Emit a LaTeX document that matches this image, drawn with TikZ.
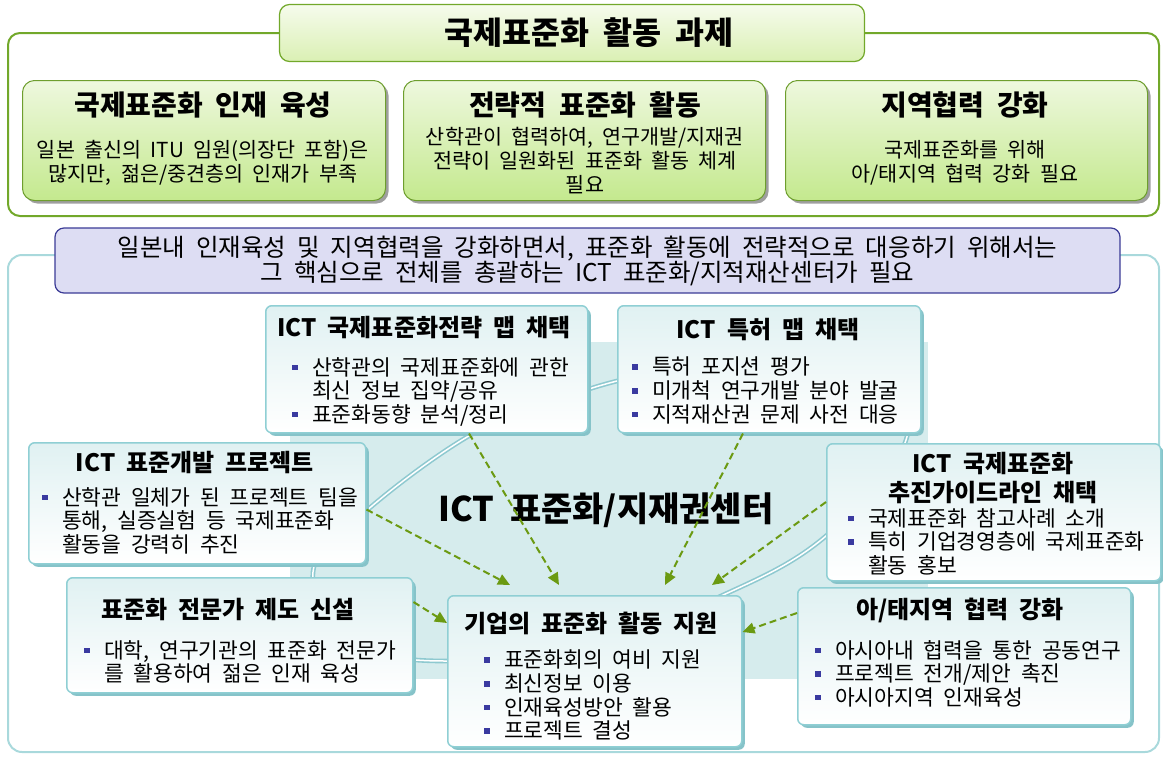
\documentclass[tikz,border=0pt]{standalone}
\usepackage{fontspec}
\setmainfont{Noto Sans CJK KR}[WordSpace=2]
\usetikzlibrary{arrows.meta,shadows,calc}

\definecolor{framegreen}{HTML}{72A82A}
\definecolor{headtop}{HTML}{F6FBEC}
\definecolor{headbot}{HTML}{DAF0B4}
\definecolor{boxgreenA}{HTML}{EEF8DE}
\definecolor{boxgreenB}{HTML}{C4E98E}
\definecolor{edgegreen}{HTML}{6E9E2E}
\definecolor{lavfill}{HTML}{DDDDF3}
\definecolor{lavedge}{HTML}{3B3B96}
\definecolor{tealframe}{HTML}{A9D9DC}
\definecolor{tealback}{HTML}{D6ECED}
\definecolor{tealedge}{HTML}{8FCFD4}
\definecolor{tealtop}{HTML}{E0F1F2}
\definecolor{tealshadow}{HTML}{86C3C9}
\definecolor{ringteal}{HTML}{8EC9D0}
\definecolor{arrowgreen}{HTML}{6B9A12}
\definecolor{bulletblue}{HTML}{3A3AA0}

\newcommand{\bul}{\makebox[20pt][l]{\textcolor{bulletblue}{\rule[5pt]{5.5pt}{5.5pt}}}}
\newcommand{\ind}{\hspace*{20pt}}

\begin{document}
\begin{tikzpicture}[x=1pt,y=-1pt,
    headbox/.style={draw=framegreen, line width=1.2pt, rounded corners=10pt,
      top color=headtop, bottom color=headbot, minimum width=585pt,
      minimum height=57pt, inner sep=0pt},
    task/.style={draw=edgegreen, line width=1pt, rounded corners=12pt,
      top color=boxgreenA, bottom color=boxgreenB, anchor=north west,
      inner sep=0pt, minimum height=120pt,
      general shadow={fill=gray!75, shadow xshift=3pt, shadow yshift=-3pt}},
    unit/.style={draw=tealedge, line width=1.5pt, rounded corners=6pt,
      top color=tealtop, bottom color=white, anchor=north west, inner sep=0pt,
      general shadow={fill=tealshadow, shadow xshift=3pt, shadow yshift=-3pt}},
    tasktitle/.style={font=\fontsize{28}{32}\selectfont\bfseries, inner sep=0pt},
    tasktext/.style={font=\fontsize{20.7}{24}\selectfont, align=center, inner sep=0pt},
    unittitle/.style={font=\fontsize{24}{29}\selectfont\bfseries, align=center, inner sep=0pt},
    unittext/.style={font=\fontsize{21.5}{23.6}\selectfont, align=left,
      anchor=north west, inner sep=0pt},
    flow/.style={draw=arrowgreen, line width=2pt, dash pattern=on 7pt off 4pt,
      -{Triangle[length=12pt,width=11pt]}},
    ring/.style={draw=ringteal, double=white, double distance=1.5pt, line width=1.6pt}]
  \useasboundingbox (0,0) rectangle (1163,756);

  % upper part: tasks
  \draw[framegreen, line width=2pt, rounded corners=12pt] (8,33) rectangle (1159,216);
  \node[headbox] (head) at (572,33) {};
  \node[font=\fontsize{31.5}{36}\selectfont\bfseries] (head-t) at (589,33) {국제표준화 활동 과제};

  \node[task, minimum width=363pt] (talent) at (22,80) {};
  \node[task, minimum width=362pt] (strategy) at (403,80) {};
  \node[task, minimum width=362pt] (region) at (785,80) {};

  \node[tasktitle] (talent-t) at (203,105) {국제표준화 인재 육성};
  \node[tasktext] (talent-b) at (203,163)
    {일본 출신의 ITU 임원(의장단 포함)은\\많지만, 젊은/중견층의 인재가 부족};
  \node[tasktitle] (strategy-t) at (585,105) {전략적 표준화 활동};
  \node[tasktext] (strategy-b) at (585,161)
    {산학관이 협력하여, 연구개발/지재권\\전략이 일원화된 표준화 활동 체계\\필요};
  \node[tasktitle] (region-t) at (965,105) {지역협력 강화};
  \node[tasktext] (region-b) at (965,163)
    {국제표준화를 위해\\아/태지역 협력 강화 필요};

  % lower part: center
  \draw[tealframe, line width=2pt, rounded corners=14pt] (8,255) rectangle (1159,752);
  \node[draw=lavedge, line width=1.2pt, fill=lavfill, rounded corners=9pt,
    minimum width=1065pt, minimum height=65pt, inner sep=0pt, align=center,
    font=\fontsize{24.5}{25}\selectfont] (need) at (587.5,260.5)
    {일본내 인재육성 및 지역협력을 강화하면서, 표준화 활동에 전략적으로 대응하기 위해서는\\
     그 핵심으로 전체를 총괄하는 ICT 표준화/지적재산센터가 필요};

  \fill[tealback] (290,342) rectangle (928,679);
  \draw[ring] plot[smooth cycle, tension=0.65] coordinates
    {(313,572) (352,640) (446,661) (600,640) (721,596) (826,536) (906,440)
     (880,372) (760,352) (617,381) (540,408) (467,437) (365,512)};

  \node[font=\fontsize{34}{38}\selectfont\bfseries] (hub) at (606,510)
    {ICT 표준화/지재권센터};

  \node[unit, minimum width=322pt, minimum height=127pt] (strat) at (265,305) {};
  \node[unit, minimum width=303pt, minimum height=127pt] (patent) at (617,305) {};
  \node[unit, minimum width=337pt, minimum height=121pt] (proj) at (28,442) {};
  \node[unit, minimum width=334pt, minimum height=137pt] (guide) at (826,443) {};
  \node[unit, minimum width=346pt, minimum height=115pt] (expert) at (66,577) {};
  \node[unit, minimum width=333pt, minimum height=137pt] (asia) at (797,587) {};
  \node[unit, minimum width=294pt, minimum height=151pt] (corp) at (447,595) {};

  \node[unittitle] (strat-t) at (424,328) {ICT 국제표준화전략 맵 채택};
  \node[unittext] (strat-b) at (292,357)
    {\bul 산학관의 국제표준화에 관한\\\ind 최신 정보 집약/공유\\\bul 표준화동향 분석/정리};
  \node[unittitle] (patent-t) at (768,330) {ICT 특허 맵 채택};
  \node[unittext] (patent-b) at (632,357)
    {\bul 특허 포지션 평가\\\bul 미개척 연구개발 분야 발굴\\\bul 지적재산권 문제 사전 대응};
  \node[unittitle] (proj-t) at (195,463) {ICT 표준개발 프로젝트};
  \node[unittext] (proj-b) at (42,487)
    {\bul 산학관 일체가 된 프로젝트 팀을\\\ind 통해, 실증실험 등 국제표준화\\\ind 활동을 강력히 추진};
  \node[unittitle] (guide-t) at (993,478) {ICT 국제표준화\\추진가이드라인 채택};
  \node[unittext] (guide-b) at (848,508)
    {\bul 국제표준화 참고사례 소개\\\bul 특히 기업경영층에 국제표준화\\\ind 활동 홍보};
  \node[unittitle] (expert-t) at (228,609) {표준화 전문가 제도 신설};
  \node[unittext] (expert-b) at (84,640)
    {\bul 대학, 연구기관의 표준화 전문가\\\ind 를 활용하여 젊은 인재 육성};
  \node[unittitle] (asia-t) at (960,610) {아/태지역 협력 강화};
  \node[unittext] (asia-b) at (815,640)
    {\bul 아시아내 협력을 통한 공동연구\\\bul 프로젝트 전개/제안 촉진\\\bul 아시아지역 인재육성};
  \node[unittitle] (corp-t) at (591,623) {기업의 표준화 활동 지원};
  \node[unittext] (corp-b) at (484,650)
    {\bul 표준화회의 여비 지원\\\bul 최신정보 이용\\\bul 인재육성방안 활용\\\bul 프로젝트 결성};

  % support arrows
  \draw[flow] ([xshift=204pt]strat.south west) -- ([xshift=112pt,yshift=10pt]corp.north west);
  \draw[flow] ([xshift=126pt]patent.south west) -- ([xshift=218pt,yshift=10pt]corp.north west);
  \draw[flow] ([yshift=55pt]proj.south east) -- ([xshift=63pt,yshift=10pt]corp.north west);
  \draw[flow] ([yshift=-59pt]guide.north west) -- ([xshift=265pt,yshift=10pt]corp.north west);
  \draw[flow] ([yshift=-25pt]expert.north east) -- ([yshift=-28pt]corp.north west);
  \draw[flow] ([yshift=-26pt]asia.north west) -- ([yshift=-37pt]corp.north east);
\end{tikzpicture}
\end{document}
